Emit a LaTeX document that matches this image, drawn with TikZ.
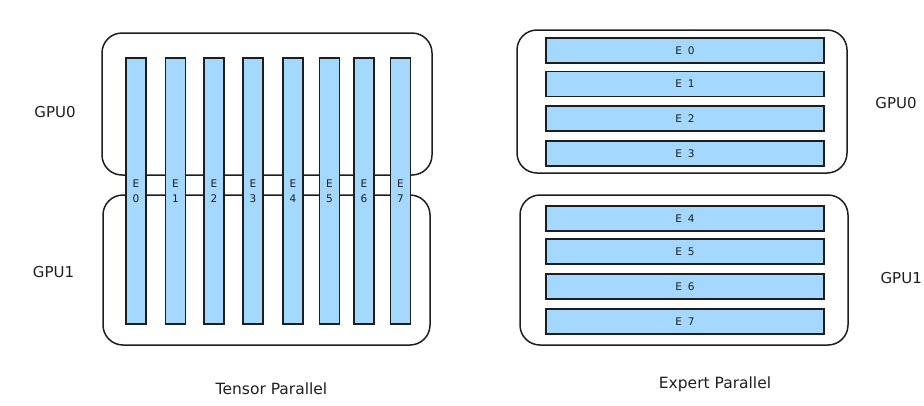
\documentclass[tikz,border=0pt]{standalone}
\usepackage{fontspec}
\setmainfont{DejaVu Sans}
\definecolor{ink}{HTML}{1E1E1E}
\definecolor{expblue}{HTML}{A5D8FF}
\begin{document}
\begin{tikzpicture}[x=1pt,y=-1pt,
  gpubox/.style={draw=ink, line width=1.5pt, rounded corners=20pt, fill=white, inner sep=0pt},
  vbar/.style={draw=ink, line width=1.4pt, fill=expblue, minimum width=20pt, minimum height=266pt, inner sep=0pt, align=center, font=\fontsize{10.5}{15}\selectfont, text=ink},
  hbar/.style={draw=ink, line width=1.4pt, fill=expblue, minimum width=278pt, minimum height=25pt, inner sep=0pt, font=\fontsize{10.5}{12}\selectfont, text=ink},
  gpulabel/.style={font=\fontsize{15}{17}\selectfont, text=ink, inner sep=0pt},
  caption/.style={font=\fontsize{15.5}{17}\selectfont, text=ink, inner sep=0pt}
]
\useasboundingbox (0,0) rectangle (924,405);
% Tensor parallel
\node[gpubox, minimum width=330pt, minimum height=142pt] (L0) at (267,104) {};
\node[gpubox, minimum width=327pt, minimum height=150pt] (L1) at (266.5,270) {};
\foreach \i/\x in {0/136,1/175.5,2/214,3/253,4/293,5/329.5,6/364,7/400.5}{
  \node[vbar] (t\i) at (\x,191) {E\\\i};
}
\node[gpulabel] (g0l) at (55,112) {GPU0};
\node[gpulabel] (g1l) at (53.5,272) {GPU1};
\node[caption] (tp) at (271.5,389) {Tensor Parallel};
% Expert parallel
\node[gpubox, minimum width=330pt, minimum height=143pt] (R0) at (682,101.5) {};
\node[gpubox, minimum width=328pt, minimum height=150pt] (R1) at (684,270) {};
\foreach \i/\y in {0/50.5,1/84,2/118.5,3/153.5,4/218.5,5/251.5,6/286.5,7/321.5}{
  \node[hbar] (e\i) at (685,\y) {E\hspace{6pt}\i};
}
\node[gpulabel] (g0r) at (896,103) {GPU0};
\node[gpulabel, anchor=east] (g1r) at (922,278) {GPU1};
\node[caption] (ep) at (715,384) {Expert Parallel};
\end{tikzpicture}
\end{document}
